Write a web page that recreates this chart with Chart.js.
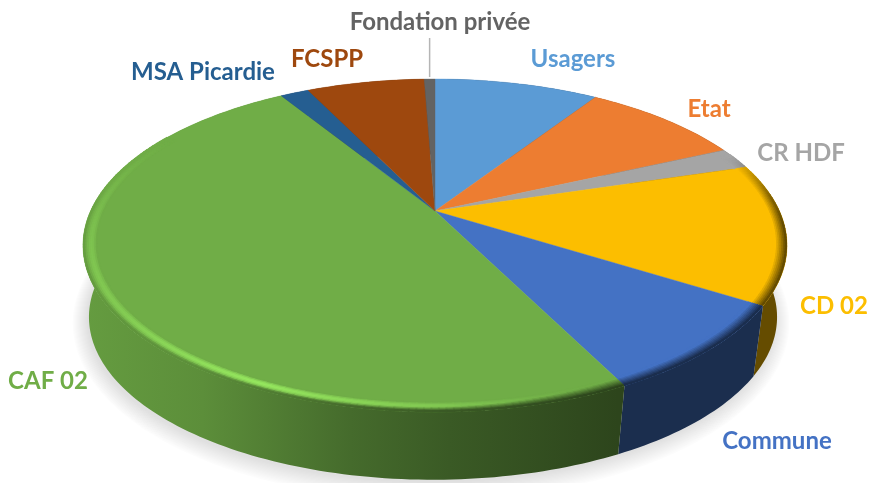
<!DOCTYPE html>
<html>
<head>
<meta charset="utf-8">
<style>
    html, body { margin: 0; padding: 0; background: #ffffff; }
    canvas { display: block; }
</style>
</head>
<body>
<canvas id="pieChart" width="870" height="483"></canvas>
<script src="https://cdn.jsdelivr.net/npm/chart.js@4/dist/chart.umd.min.js"></script>
<script>
// ==========================================
// DATA
// ==========================================
const categories = ['Usagers', 'Etat', 'CR HDF', 'CD 02', 'Commune', 'CAF 02', 'MSA Picardie', 'FCSPP', 'Fondation privée'];
const shares = [9.2, 9.0, 2.1, 13.6, 8.7, 48.6, 1.6, 6.6, 0.6];

// ==========================================
// STYLE AND LAYOUT
// ==========================================
const sliceColors = ['#5B9BD5', '#ED7D31', '#A5A5A5', '#FCBE00', '#4472C4', '#70AD47', '#255E91', '#9E480E', '#636363'];
const labelCenters = [[573, 59], [709, 109], [801, 153], [834, 306], [777, 441], [48, 381], [203, 72], [327, 59], [440, 22]];
const labelFont = 'bold 24px Lato, "Open Sans", sans-serif';

// the disc is a circle seen in perspective: k tilts it, R and a are the x and y scale
const topFace = { cx: 435, cy: 211, R: 344.4, a: 159.3 };
const bottomFace = { cx: 433, cy: 283.4, R: 336.6, a: 155.7 };
const tilt = 0.207;

// darkness of the outer wall from the left to the right of the disc
const wallStops = [[0, 0.9], [0.17, 0.82], [0.38, 0.62], [0.52, 0.52], [0.76, 0.4], [1, 0.4]];
// rim bevel by clock angle: [degrees, highlight, blend into wall, where the blend starts]
const bevelStops = [[68, 0, 0, 0.15], [85, 0, 0.8, 0.15], [95, 0, 1, 0.15], [155, 0, 1, 0.15], [165, 0.1, 1, 0.3],
    [180, 0.4, 1, 0.6], [205, 0.85, 1, 0.75], [235, 0.45, 1, 0.8], [262, 0.3, 0.8, 0.9], [280, 0.15, 0.1, 0.9], [300, 0, 0, 0.9]];

function project(face, r, angle) {
    const x = r * Math.cos(angle);
    const y = r * Math.sin(angle);
    const w = 1 - tilt * y;
    return [face.cx + face.R * x / w, face.cy + face.a * y / w];
}

function toRgb(hex) {
    return [1, 3, 5].map(i => parseInt(hex.substr(i, 2), 16));
}

function css(rgb) {
    return 'rgb(' + rgb.map(v => Math.round(Math.min(255, v))).join(',') + ')';
}

function shade(rgb, f) {
    return rgb.map(v => v * f);
}

function mix(a, b, t) {
    return a.map((v, i) => v + (b[i] - v) * t);
}

function wallShadeAt(x) {
    const u = Math.max(0, Math.min(1, (x - 83) / 704));
    for (let i = 1; i < wallStops.length; i++) {
        if (u <= wallStops[i][0]) {
            const p = wallStops[i - 1], q = wallStops[i];
            return p[1] + (q[1] - p[1]) * (u - p[0]) / (q[0] - p[0]);
        }
    }
    return 0.4;
}

function bevelAt(deg) {
    if (deg <= bevelStops[0][0] || deg >= bevelStops[bevelStops.length - 1][0]) return null;
    for (let i = 1; i < bevelStops.length; i++) {
        if (deg <= bevelStops[i][0]) {
            const p = bevelStops[i - 1], q = bevelStops[i];
            const t = (deg - p[0]) / (q[0] - p[0]);
            return [p[1] + (q[1] - p[1]) * t, p[2] + (q[2] - p[2]) * t, p[3] + (q[3] - p[3]) * t];
        }
    }
    return null;
}

function traceArc(ctx, face, start, end, first) {
    const steps = Math.max(2, Math.ceil(Math.abs(end - start) / 0.02));
    for (let i = 0; i <= steps; i++) {
        const p = project(face, 1, start + (end - start) * i / steps);
        if (i === 0 && first) ctx.moveTo(p[0], p[1]);
        else ctx.lineTo(p[0], p[1]);
    }
}

// ==========================================
// DISC DRAWING (uses the angles of the library's arcs)
// ==========================================
function drawShadow(ctx) {
    // soft halo: the base outline grown step by step, each pass very faint
    ctx.save();
    ctx.fillStyle = 'rgba(0,0,0,0.013)';
    for (let n = 14; n >= 0; n--) {
        const face = { cx: bottomFace.cx - 2, cy: bottomFace.cy + 3, R: bottomFace.R + n, a: bottomFace.a + n };
        ctx.beginPath();
        traceArc(ctx, face, 0, Math.PI * 2, true);
        ctx.closePath();
        ctx.fill();
    }
    ctx.restore();
}

function drawWall(ctx, arc, rgb) {
    const gradient = ctx.createLinearGradient(83, 0, 787, 0);
    wallStops.forEach(s => gradient.addColorStop(s[0], css(shade(rgb, s[1]))));
    ctx.fillStyle = gradient;
    ctx.beginPath();
    traceArc(ctx, topFace, arc.startAngle, arc.endAngle, true);
    traceArc(ctx, bottomFace, arc.endAngle, arc.startAngle, false);
    ctx.closePath();
    ctx.fill();
}

function drawFace(ctx, arc, rgb) {
    ctx.fillStyle = css(rgb);
    ctx.strokeStyle = css(rgb);
    ctx.lineWidth = 0.4;
    ctx.beginPath();
    ctx.moveTo(topFace.cx, topFace.cy);
    traceArc(ctx, topFace, arc.startAngle, arc.endAngle, false);
    ctx.closePath();
    ctx.fill();
    ctx.stroke();
}

function drawBevel(ctx, arc, rgb) {
    const rings = 7;
    const step = Math.PI / 180;
    ctx.lineWidth = 2.4;
    for (let ring = 0; ring <= rings; ring++) {
        const t = ring / rings;
        const r = 0.964 + 0.033 * t;
        for (let a = arc.startAngle; a < arc.endAngle; a += step) {
            const end = Math.min(a + step * 1.25, arc.endAngle);
            const deg = ((a + step / 2 + Math.PI / 2) * 180 / Math.PI + 360) % 360;
            const bevel = bevelAt(deg);
            if (!bevel) continue;
            const p = project(topFace, r, a);
            const q = project(topFace, r, end);
            const glow = bevel[0] * Math.sin(Math.PI * Math.min(t / 0.85, 1));
            const blend = bevel[1] * Math.max(0, Math.min(1, (t - bevel[2]) / (1 - bevel[2])));
            const lit = shade(rgb, 1 + 0.4 * glow);
            const wall = shade(rgb, wallShadeAt(p[0]));
            ctx.strokeStyle = css(mix(lit, wall, blend));
            ctx.beginPath();
            ctx.moveTo(p[0], p[1]);
            ctx.lineTo(q[0], q[1]);
            ctx.stroke();
        }
    }
}

const disc3d = {
    id: 'disc3d',
    beforeDatasetDraw(chart, args) {
        const ctx = chart.ctx;
        const arcs = args.meta.data;
        const colors = sliceColors.map(toRgb);
        drawShadow(ctx);
        arcs.forEach((arc, i) => drawWall(ctx, arc, colors[i]));
        arcs.forEach((arc, i) => drawFace(ctx, arc, colors[i]));
        arcs.forEach((arc, i) => drawBevel(ctx, arc, colors[i]));
        return false;
    }
};

const sliceLabels = {
    id: 'sliceLabels',
    afterDraw(chart) {
        const ctx = chart.ctx;
        ctx.save();
        // leader line of the thinnest slice
        const last = chart.getDatasetMeta(0).data[categories.length - 1];
        const tip = project(topFace, 1, (last.startAngle + last.endAngle) / 2);
        ctx.strokeStyle = '#B5B5B5';
        ctx.lineWidth = 1.5;
        ctx.beginPath();
        ctx.moveTo(tip[0], 38);
        ctx.lineTo(tip[0], tip[1] - 2);
        ctx.stroke();

        ctx.font = labelFont;
        ctx.textAlign = 'center';
        ctx.textBaseline = 'middle';
        categories.forEach((name, i) => {
            ctx.fillStyle = sliceColors[i];
            ctx.fillText(name, labelCenters[i][0], labelCenters[i][1]);
        });
        ctx.restore();
    }
};

// ==========================================
// CHART
// ==========================================
new Chart(document.getElementById('pieChart'), {
    type: 'pie',
    data: {
        labels: categories,
        datasets: [{
            data: shares,
            backgroundColor: sliceColors,
            borderWidth: 0
        }]
    },
    options: {
        responsive: false,
        animation: false,
        plugins: {
            legend: { display: false },
            tooltip: { enabled: false }
        }
    },
    plugins: [disc3d, sliceLabels]
});
</script>
</body>
</html>
